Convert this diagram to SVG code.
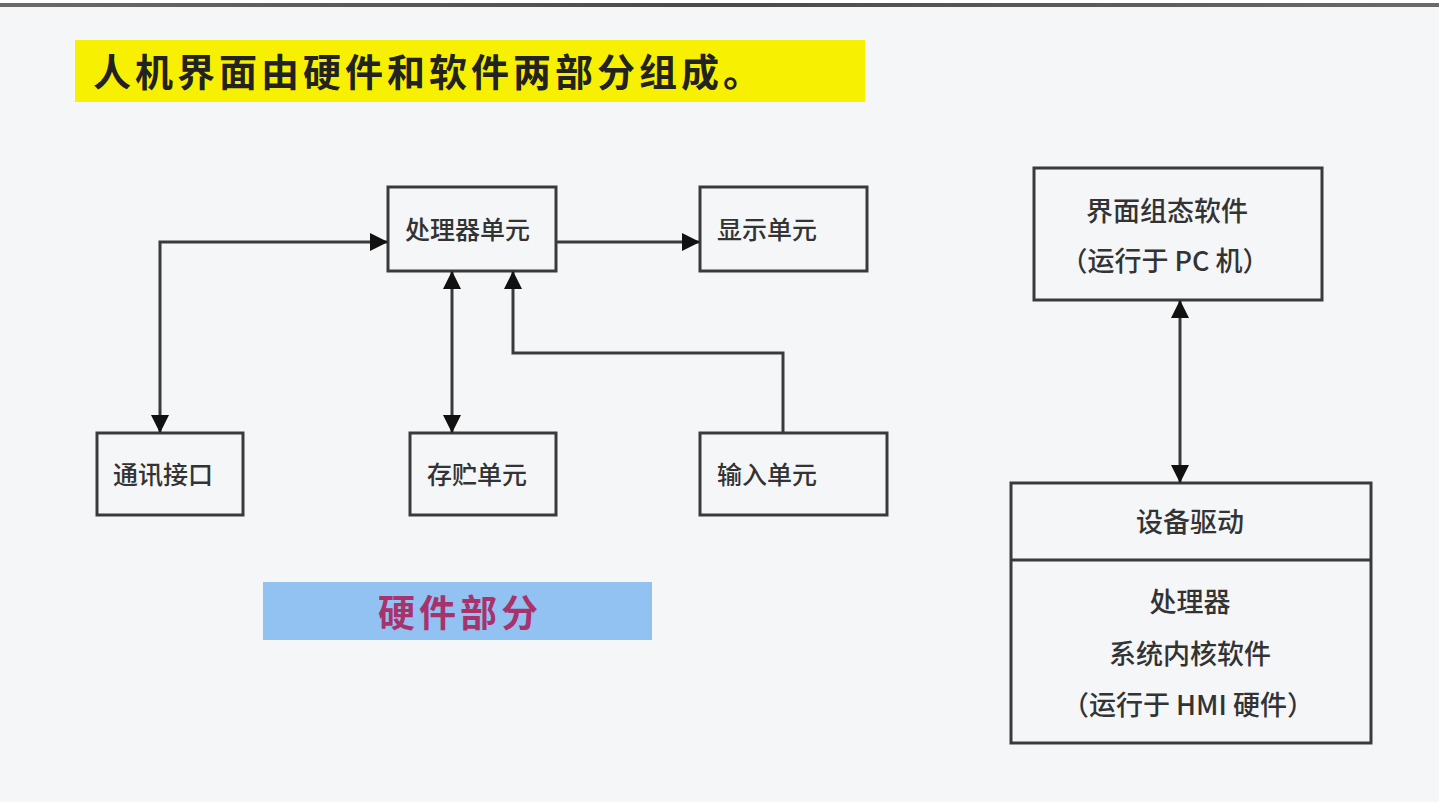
<svg xmlns="http://www.w3.org/2000/svg" width="1439" height="802" viewBox="0 0 1439 802">
<defs>
<linearGradient id="topg" x1="0" y1="0" x2="1" y2="0">
<stop offset="0" stop-color="#6a6a6a"/>
<stop offset="0.5" stop-color="#4a4a4a"/>
<stop offset="1" stop-color="#6a6a6a"/>
</linearGradient>
<marker id="arr" viewBox="0 0 18 18" refX="18" refY="9" markerWidth="18" markerHeight="18" markerUnits="userSpaceOnUse" orient="auto-start-reverse">
<path d="M0,0 L18,9 L0,18 z" fill="#111"/>
</marker>
<style>
.box{fill:none;stroke:#3a3a3a;stroke-width:3}
.lbl{font-family:"Noto Sans CJK SC","Noto Sans",sans-serif;font-size:25px;fill:#333;font-weight:500}
.rlbl{font-family:"Noto Sans CJK SC","Noto Sans",sans-serif;font-size:27px;fill:#333;font-weight:500;text-anchor:middle}
.con{fill:none;stroke:#3a3a3a;stroke-width:3}
</style>
</defs>
<rect x="0" y="0" width="1439" height="802" fill="#f5f6f8"/>
<rect x="0" y="0" width="1439" height="3" fill="#ffffff"/>
<rect x="0" y="3" width="1439" height="4" fill="url(#topg)"/>
<g id="title">
<rect x="75" y="40" width="790" height="62" fill="#f7f000"/>
<text x="93" y="86" font-family="Noto Sans CJK SC, sans-serif" font-size="38" font-weight="bold" fill="#222" letter-spacing="4">人机界面由硬件和软件两部分组成。</text>
</g>
<g id="cpu"><rect class="box" x="388" y="187" width="168" height="84"/><text class="lbl" x="405" y="239">处理器单元</text></g>
<g id="display"><rect class="box" x="700" y="187" width="167" height="84"/><text class="lbl" x="717" y="239">显示单元</text></g>
<g id="comm"><rect class="box" x="97" y="433" width="146" height="82"/><text class="lbl" x="113" y="484">通讯接口</text></g>
<g id="storage"><rect class="box" x="410" y="433" width="146" height="82"/><text class="lbl" x="427" y="484">存贮单元</text></g>
<g id="input"><rect class="box" x="700" y="433" width="187" height="82"/><text class="lbl" x="717" y="484">输入单元</text></g>
<g id="hw"><rect x="263" y="582" width="389" height="58" fill="#92c2f2"/><text x="378" y="627" font-family="Noto Sans CJK SC, sans-serif" font-size="37" font-weight="bold" fill="#a8336c" letter-spacing="4">硬件部分</text></g>
<g id="sw"><rect class="box" x="1034" y="168" width="288" height="132"/><text class="rlbl" x="1167" y="221">界面组态软件</text><text class="rlbl" x="1165" y="271">（运行于 PC 机）</text></g>
<g id="driver"><rect class="box" x="1011" y="483" width="360" height="260"/><line class="box" x1="1011" y1="560" x2="1371" y2="560"/><text class="rlbl" x="1190" y="532">设备驱动</text><text class="rlbl" x="1190" y="612">处理器</text><text class="rlbl" x="1190" y="664">系统内核软件</text><text class="rlbl" x="1188" y="715">（运行于 HMI 硬件）</text></g>
<g id="connectors">
<path class="con" d="M160,433 L160,242 L388,242" marker-start="url(#arr)" marker-end="url(#arr)"/>
<path class="con" d="M556,242 L700,242" marker-end="url(#arr)"/>
<path class="con" d="M452,271 L452,433" marker-start="url(#arr)" marker-end="url(#arr)"/>
<path class="con" d="M783,433 L783,353 L513,353 L513,271" marker-end="url(#arr)"/>
<path class="con" d="M1180,300 L1180,483" marker-start="url(#arr)" marker-end="url(#arr)"/>
</g>
</svg>
